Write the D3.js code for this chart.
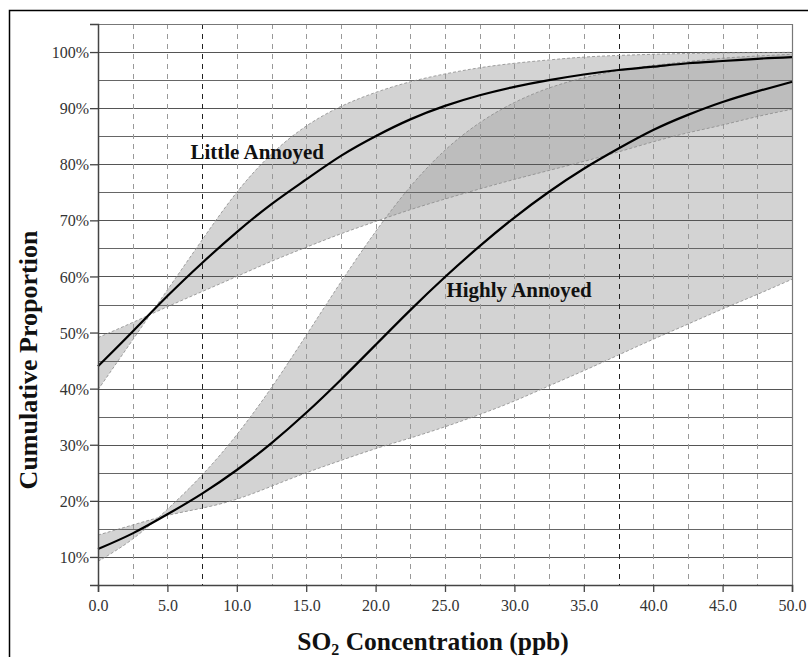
<!DOCTYPE html>
<html>
<head>
<meta charset="utf-8">
<script src="https://cdn.jsdelivr.net/npm/d3@7"></script>
<style>
  body { margin: 0; background: #fff; }
  svg { display: block; }
</style>
</head>
<body>
<script>
(function(){

//SO2 concentration (ppb) at which values were read
var concentration = [0, 2.5, 5, 7.5, 10, 12.5, 15, 17.5, 20, 22.5, 25,
  27.5, 30, 32.5, 35, 37.5, 40, 42.5, 45, 47.5, 50];

//cumulative proportion (%) - little annoyed curve and its band edges
var littleMid   = [44, 50.2, 56.5, 62.4, 67.9, 72.9, 77.3, 81.5, 85, 88, 90.4,
  92.3, 93.8, 95, 96, 96.8, 97.4, 98, 98.4, 98.8, 99.1];
var littleSteep = [39.8, 48.7, 57.6, 66.5, 75, 81.8, 86.8, 90.3, 92.8, 94.7, 96.1,
  97.2, 98, 98.6, 99.1, 99.4, 99.6, 99.75, 99.85, 99.9, 99.95];
var littleFlat  = [49.1, 51.8, 54.6, 57.3, 60, 62.7, 65.2, 67.6, 69.8, 71.9, 73.8,
  75.6, 77.3, 78.9, 80.5, 82.2, 84, 85.6, 87, 88.5, 89.8];

//highly annoyed curve and its band edges
var highlyMid   = [11.4, 14.2, 17.6, 21.3, 25.5, 30.3, 35.7, 41.6, 47.8, 54, 59.9,
  65.4, 70.5, 75.1, 79.2, 82.8, 86.1, 88.8, 91.1, 93, 94.7];
var highlySteep = [9.2, 13.2, 18.5, 24.6, 31.8, 40.2, 49.5, 59, 68, 76, 82.5,
  87.4, 91, 93.6, 95.4, 96.7, 97.6, 98.3, 98.9, 99.3, 99.6];
var highlyFlat  = [13.9, 15.7, 17.4, 18.7, 20.3, 22.6, 25, 27.2, 29.3, 31.2, 33.2,
  35.4, 37.8, 40.5, 43.2, 46, 48.8, 51.5, 54.2, 56.8, 59.5];

//tick values
var xTicks = [0, 5, 10, 15, 20, 25, 30, 35, 40, 45, 50];
var xGrid = d3.range(2.5, 50, 2.5);
var yTicks = [10, 20, 30, 40, 50, 60, 70, 80, 90, 100];
var yGrid = d3.range(10, 101, 5);
var darkGrid = [7.5, 37.5]; //vertical lines drawn darker in the original

var labels = [
  {text: "Little Annoyed", x: 6.66, y: 80.9},
  {text: "Highly Annoyed", x: 25.1, y: 56.3}
];

var width = 808, height = 657;
var left = 98, right = 792, top = 24, bottom = 585;
var serif = "'Liberation Serif', 'Times New Roman', serif";

var svg = d3.select("body")
  .append("svg")
  .attr("width", width)
  .attr("height", height);

var x = d3.scaleLinear().domain([0, 50]).range([left, right]);
var y = d3.scaleLinear().domain([5, 105]).range([bottom, top]);

//outer frame (top and left only)
svg.append("path")
  .attr("d", "M9.5," + height + "V10.5H" + width)
  .attr("fill", "none")
  .attr("stroke", "#000")
  .attr("stroke-width", 1.5);

//confidence bands
function band(lo, hi){
  return d3.area()
    .x(function(d, i){ return x(concentration[i]); })
    .y0(function(d, i){ return y(lo[i]); })
    .y1(function(d, i){ return y(hi[i]); })
    .curve(d3.curveNatural)(concentration);
}
function edge(vals){
  return d3.line()
    .x(function(d, i){ return x(concentration[i]); })
    .y(function(d){ return y(d); })
    .curve(d3.curveNatural)(vals);
}

[[littleSteep, littleFlat], [highlySteep, highlyFlat]].forEach(function(b){
  svg.append("path")
    .attr("d", band(b[0], b[1]))
    .attr("fill", "#a7a7a7")
    .attr("fill-opacity", 0.5);
});

//horizontal grid
svg.selectAll(".hgrid")
  .data(yGrid)
  .enter()
  .append("line")
  .attr("class", "hgrid")
  .attr("x1", left).attr("x2", right)
  .attr("y1", function(d){ return Math.round(y(d)) + 0.5; })
  .attr("y2", function(d){ return Math.round(y(d)) + 0.5; })
  .attr("stroke", function(d){ return d % 10 === 0 ? "#555" : "#666"; })
  .attr("stroke-width", 1.2);

//vertical dashed grid
svg.selectAll(".vgrid")
  .data(xGrid)
  .enter()
  .append("line")
  .attr("class", "vgrid")
  .attr("x1", function(d){ return Math.round(x(d)) + 0.5; })
  .attr("x2", function(d){ return Math.round(x(d)) + 0.5; })
  .attr("y1", top).attr("y2", bottom)
  .attr("stroke", function(d){ return darkGrid.indexOf(d) >= 0 ? "#222" : "#999"; })
  .attr("stroke-dasharray", "5,5");

//band edges
[littleSteep, littleFlat, highlySteep, highlyFlat].forEach(function(vals){
  svg.append("path")
    .attr("d", edge(vals))
    .attr("fill", "none")
    .attr("stroke", "#8a8a8a")
    .attr("stroke-width", 0.8)
    .attr("stroke-dasharray", "3,2");
});

//plot border (top and right)
svg.append("path")
  .attr("d", "M" + left + "," + (top + 0.5) + "H" + (right + 0.5) + "V" + bottom)
  .attr("fill", "none")
  .attr("stroke", "#777")
  .attr("stroke-width", 1.2);

//fitted curves
[littleMid, highlyMid].forEach(function(vals){
  svg.append("path")
    .attr("d", edge(vals))
    .attr("fill", "none")
    .attr("stroke", "#000")
    .attr("stroke-width", 2.2);
});

//axes
var xAxis = svg.append("g")
  .attr("transform", "translate(0," + bottom + ")")
  .call(d3.axisBottom(x).tickValues(xTicks).tickSize(7).tickPadding(8)
    .tickFormat(d3.format(".1f")));
var yAxis = svg.append("g")
  .attr("transform", "translate(" + left + ",0)")
  .call(d3.axisLeft(y).tickValues(yTicks).tickSize(8).tickPadding(1)
    .tickFormat(function(d){ return d + "%"; }));

[xAxis, yAxis].forEach(function(g){
  g.select(".domain").attr("stroke", "#444").attr("stroke-width", 1.5);
  g.selectAll(".tick line").attr("stroke", "#444").attr("stroke-width", 1.3);
  g.selectAll("text")
    .attr("fill", "#333")
    .style("font-family", serif)
    .style("font-size", "16px");
});
yAxis.selectAll("text").attr("dy", "0.35em");

//curve labels
svg.selectAll(".lbl")
  .data(labels)
  .enter()
  .append("text")
  .attr("x", function(d){ return x(d.x); })
  .attr("y", function(d){ return y(d.y); })
  .style("font-family", serif)
  .style("font-weight", "bold")
  .style("font-size", "21px")
  .attr("fill", "#111")
  .text(function(d){ return d.text; });

//axis titles
var xTitle = svg.append("text")
  .attr("x", 433)
  .attr("y", 650)
  .attr("text-anchor", "middle")
  .style("font-family", serif)
  .style("font-weight", "bold")
  .style("font-size", "25.5px")
  .attr("fill", "#111");
xTitle.append("tspan").text("SO");
xTitle.append("tspan").attr("font-size", "16px").attr("dy", 5).text("2");
xTitle.append("tspan").attr("dy", -5).text(" Concentration (ppb)");

svg.append("text")
  .attr("transform", "translate(37,360) rotate(-90)")
  .attr("text-anchor", "middle")
  .style("font-family", serif)
  .style("font-weight", "bold")
  .style("font-size", "26px")
  .attr("fill", "#111")
  .text("Cumulative Proportion");

})();
</script>
</body>
</html>
